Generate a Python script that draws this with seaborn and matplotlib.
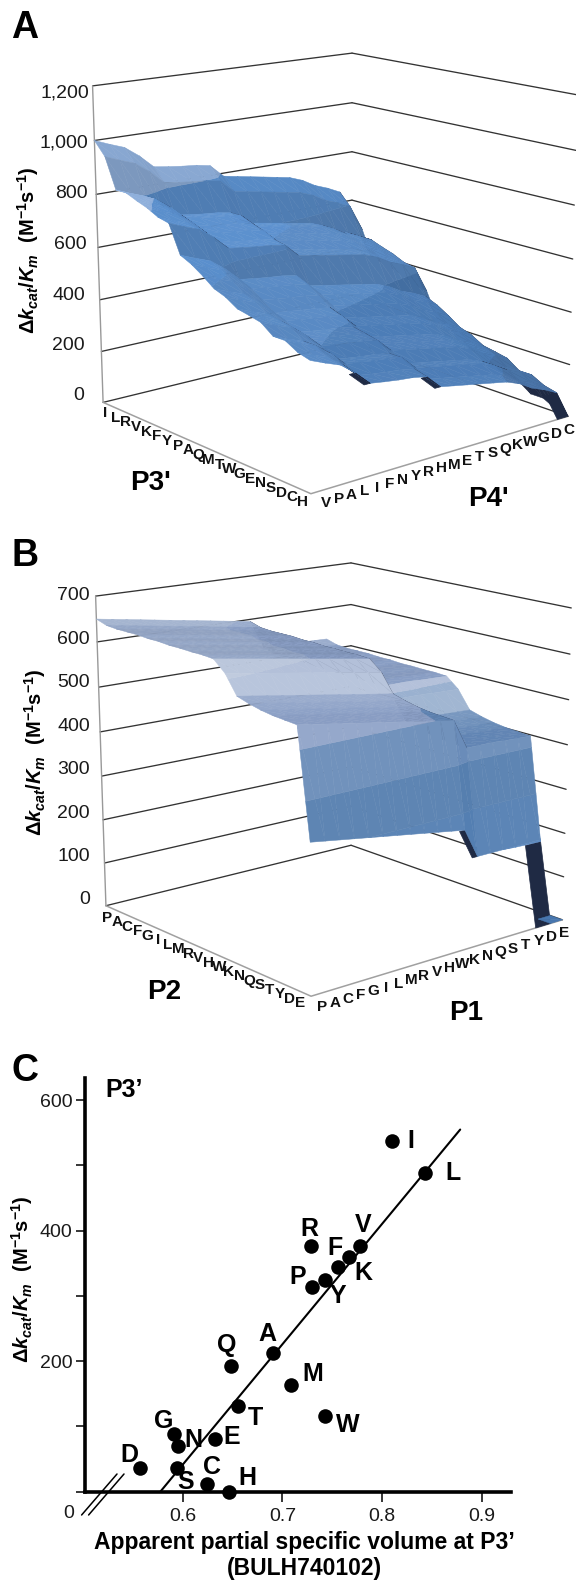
import numpy as np
import pandas as pd
import seaborn as sns
import matplotlib.pyplot as plt
from matplotlib.collections import PolyCollection

# residues in axis order, rates
residues_p3 = list("ILRVKFYPAQMTWGENSDCH")
residues_p4 = list("VPALIFNYRHMETSQKWGDC")
residues_p2 = list("PACFGILMRVHWKNQSTYDE")
residues_p1 = list("PACFGILMRVHWKNQSTYDE")

# panel C, same residue order as residues_p3, also the P3' part of surface A
p3_rate = [538, 489, 377, 377, 360, 345, 324, 314, 212, 192,
           164, 132, 116, 89, 80, 70, 37, 37, 12, 0]
p3_volume = [0.8097, 0.843, 0.7285, 0.7776, 0.767, 0.756, 0.743, 0.730, 0.691, 0.648,
             0.709, 0.655, 0.743, 0.591, 0.632, 0.5956, 0.594, 0.5575, 0.624, 0.646]
fit_volume = [0.5775, 0.8785]
fit_rate = [0, 555]

# panel A, P4' part of the surface height
p4_rate = [462, 440, 420, 380, 330, 322, 315, 310, 300, 250,
           240, 230, 220, 210, 200, 180, 150, 130, 105, 0]
# panel B
p2_rate = [330, 322, 320, 320, 320, 318, 318, 316, 316, 315,
           315, 313, 290, 250, 242, 236, 232, 230, 228, 0]
p1_rate = [320, 315, 310, 305, 300, 295, 290, 285, 280, 275,
           270, 265, 200, 200, 200, 198, 197, 196, 0, 0]

ticks_a = [0, 200, 400, 600, 800, 1000, 1200]
ticks_b = [0, 100, 200, 300, 400, 500, 600, 700]

# pixel offset of each letter from its point in panel C
label_offset = {
    "I": (19, 0), "L": (28, 0), "R": (-1, 17), "V": (3, 21), "K": (14, -16),
    "F": (-3, 19), "Y": (13, -16), "P": (-15, 10), "A": (-6, 19), "Q": (-4, 21),
    "M": (21, 11), "T": (18, -12), "W": (23, -9), "G": (-10, 13), "E": (17, 2),
    "N": (15, 6), "S": (9, -14), "D": (-11, 13), "C": (5, 17), "H": (19, 14),
}

NAVY = "#1f2a44"
bands_a = ["#4a75a9", "#4d7eb8", "#5a8bc5", "#5b90ce", "#8fb0dc", "#9dbbe3"]
bands_b = ["#4a7ab4", "#4d7fbb", "#4b78ae", "#4d78ab", "#6286b5", "#8a9fc5", "#97a9c9"]

sns.set_theme(style="ticks")
plt.rcParams["font.family"] = ["Liberation Sans", "DejaVu Sans"]
plt.rcParams["text.color"] = "black"
plt.rcParams["mathtext.fontset"] = "custom"
plt.rcParams["mathtext.rm"] = "Liberation Sans:bold"
plt.rcParams["mathtext.bf"] = "Liberation Sans:bold"
plt.rcParams["mathtext.it"] = "Liberation Sans:italic:bold"

RATE_LABEL = r"$\mathrm{\Delta}\mathit{k}_{\mathit{cat}}\mathrm{/}\mathit{K}_{\mathit{m}}\ \ \mathrm{(M^{-1}s^{-1})}$"


# straight-line camera from the box corners (u, v, w all 0..1) to pixels
def fit_camera(world, pixels):
    rows = []
    for (u, v, w), (x, y) in zip(world, pixels):
        rows.append([u, v, w, 1, 0, 0, 0, 0, -x * u, -x * v, -x * w, -x])
        rows.append([0, 0, 0, 0, u, v, w, 1, -y * u, -y * v, -y * w, -y])
    return np.linalg.svd(np.array(rows))[2][-1].reshape(3, 4)


def project(cam, u, v, w):
    u = np.asarray(u, dtype=float)
    pts = cam @ np.array([u, np.asarray(v, dtype=float), np.asarray(w, dtype=float), np.ones_like(u)])
    return pts[0] / pts[2], pts[1] / pts[2]


def tint(color, f):
    c = np.array(color)
    if f > 1:
        return tuple(c + (1 - c) * min((f - 1) * 2, 1))
    return tuple(c * f)


def clip_height(verts, level, keep_above):
    out = []
    for a, b in zip(verts, verts[1:] + verts[:1]):
        a_in = (a[2] >= level) == keep_above
        b_in = (b[2] >= level) == keep_above
        if a_in:
            out.append(a)
        if a_in != b_in:
            t = (level - a[2]) / (b[2] - a[2])
            out.append(tuple(p + (q - p) * t for p, q in zip(a, b)))
    return out


def signed_area(x, y):
    return np.sum(x * np.roll(y, -1) - np.roll(x, -1) * y)


def draw_surface(ax, cam, z, zmax, bands, light, shade, sliver_scale):
    n = z.shape[0]
    band_rgb = sns.color_palette(bands)
    band_size = zmax / len(bands)
    step = 1 / (n - 1)
    polys, colors = [], []
    for i in range(n - 1):
        for j in range(n - 2, -1, -1):
            # nan marks cells hidden behind the surface
            if np.isnan(z[i:i + 2, j:j + 2]).any():
                continue
            p00 = (i * step, j * step, float(z[i, j]))
            p10 = ((i + 1) * step, j * step, float(z[i + 1, j]))
            p01 = (i * step, (j + 1) * step, float(z[i, j + 1]))
            p11 = ((i + 1) * step, (j + 1) * step, float(z[i + 1, j + 1]))
            dzi = ((p10[2] + p11[2]) - (p00[2] + p01[2])) / 2 * (n - 1) / zmax
            dzj = ((p01[2] + p11[2]) - (p00[2] + p10[2])) / 2 * (n - 1) / zmax
            if dzj < -3 and abs(dzj) > 0.7 * abs(dzi):
                continue
            normal = np.array([-dzi, -dzj, 1.0])
            normal /= np.linalg.norm(normal)
            f = shade[0] + shade[1] * normal.dot(light)
            for tri in ([p00, p01, p11], [p00, p11, p10]):
                u, v, h = np.array(tri).T
                x, y = project(cam, u, v, h / zmax)
                xf, yf = project(cam, u, v, np.zeros(3))
                if signed_area(x, y) * signed_area(xf, yf) < 0:
                    polys.append(np.column_stack([x, y]))
                    colors.append(NAVY)
                    continue
                for b in range(len(bands)):
                    lo, hi = b * band_size, (b + 1) * band_size
                    part = clip_height(tri, lo, True) if b > 0 else list(tri)
                    if part:
                        part = clip_height(part, hi, False)
                    if len(part) < 3:
                        continue
                    u, v, h = np.array(part).T
                    x, y = project(cam, u, v, h / zmax)
                    polys.append(np.column_stack([x, y]))
                    colors.append(tint(band_rgb[b], f))
    # dark underside showing below the front edge where it falls away
    slivers = []
    for j in range(n - 1):
        drop = z[-1, j] - z[-1, j + 1]
        if drop > 40:
            r = drop / sliver_scale
            v = np.array([j, j + 1, j + 1 - r, j - r]) * step
            h = np.array([z[-1, j], z[-1, j + 1], z[-1, j + 1], z[-1, j]]) / zmax
            x, y = project(cam, np.ones(4), v, h)
            slivers.append(np.column_stack([x, y]))
    ax.add_collection(PolyCollection(slivers, facecolors=NAVY, edgecolors=NAVY, linewidths=0.5, zorder=2.5))
    ax.add_collection(PolyCollection(polys, facecolors=colors, edgecolors=colors,
                                     linewidths=0.35, zorder=3))


def draw_box(ax, cam, ticks, zmax):
    for t in ticks:
        w = t / zmax
        x, y = project(cam, [0, 0], [0, 1], [w, w])
        ax.plot(x, y, color="#333333", lw=0.95, zorder=1)
        x, y = project(cam, [0, 1], [1, 1], [w, w])
        ax.plot(x, y, color="#333333", lw=0.95, zorder=1)
    x, y = project(cam, [0, 0], [0, 0], [0, 1])
    ax.plot(x, y, color="#999999", lw=1, zorder=1)
    x, y = project(cam, [0, 1, 1], [0, 0, 1], [0, 0, 0])
    ax.plot(x, y, color="#a0a0a0", lw=1.1, zorder=2)


def draw_letters(ax, letters, start, end):
    xs = np.linspace(start[0], end[0], len(letters))
    ys = np.linspace(start[1], end[1], len(letters))
    for s, x, y in zip(letters, xs, ys):
        ax.text(x, y, s, fontsize=11, fontweight="bold", ha="center", va="center", color="#111111")


def draw_panel(ax, corners, z, ticks, bands, light, shade, sliver_scale, label_top, label_bot):
    world = [(0, 0, 0), (1, 0, 0), (1, 1, 0), (0, 1, 0), (0, 0, 1), (0, 1, 1)]
    cam = fit_camera(world, corners)
    zmax = ticks[-1]
    draw_box(ax, cam, ticks, zmax)
    draw_surface(ax, cam, z, zmax, bands, light, shade, sliver_scale)
    for t in ticks:
        f = t / zmax
        ax.text(label_bot[0] + (label_top[0] - label_bot[0]) * f,
                label_bot[1] + (label_top[1] - label_bot[1]) * f,
                f"{t:,}", fontsize=14, ha="right", va="center", color="#1a1a1a")


fig = plt.figure(figsize=(5.76, 15.8), dpi=100)
canvas = fig.add_axes([0, 0, 1, 1], zorder=2)
canvas.set_xlim(0, 576)
canvas.set_ylim(1580, 0)
canvas.axis("off")
canvas.patch.set_alpha(0)

# panel A
surface_a = np.add.outer(np.array(p3_rate), np.array(p4_rate)).astype(float)
corners_a = [(103, 402), (311, 494), (568, 416), (352, 342), (92.6, 86), (352, 53)]
draw_panel(canvas, corners_a, surface_a, ticks_a, bands_a, np.array([0.0, 0.0, 1.0]),
           (0.72, 0.3), 120, (89, 93), (84, 396))
draw_letters(canvas, residues_p3, (105, 413), (302, 502))
draw_letters(canvas, residues_p4, (326, 503), (569, 430))
canvas.text(25, 28, "A", fontsize=27, fontweight="bold", ha="center", va="center")
canvas.text(151, 483, "P3'", fontsize=20, fontweight="bold", ha="center", va="center")
canvas.text(488, 499, "P4'", fontsize=20, fontweight="bold", ha="center", va="center")
canvas.text(28, 250, RATE_LABEL, fontsize=14.5, rotation=90, ha="center", va="center")

# panel B, the last two P1 columns cannot be seen except for the tip on the floor
surface_b = np.add.outer(np.array(p2_rate), np.array(p1_rate)).astype(float)
surface_b[:18, 18:] = np.nan
surface_b[18:, 18:] = 0
corners_b = [(106, 906), (311, 996), (562.5, 920), (351, 845), (95.6, 596), (351, 563)]
draw_panel(canvas, corners_b, surface_b, ticks_b, bands_b, np.array([0.707, 0.0, 0.707]),
           (0.4, 0.8), 160, (90, 596), (90, 900))
draw_letters(canvas, residues_p2, (107, 918), (300, 1003))
draw_letters(canvas, residues_p1, (322, 1007), (564, 933))
canvas.text(25, 556, "B", fontsize=27, fontweight="bold", ha="center", va="center")
canvas.text(164, 992, "P2", fontsize=20, fontweight="bold", ha="center", va="center")
canvas.text(466, 1013, "P1", fontsize=20, fontweight="bold", ha="center", va="center")
canvas.text(35, 752, RATE_LABEL, fontsize=14.5, rotation=90, ha="center", va="center")

# panel C
df = pd.DataFrame({"residue": residues_p3, "volume": p3_volume, "rate": p3_rate})
ax = fig.add_axes([84.5 / 576, 1 - 1491.7 / 1580, (511 - 84.5) / 576, (1491.7 - 1078) / 1580], zorder=1)
ax.patch.set_alpha(0)
sns.lineplot(x=fit_volume, y=fit_rate, color="black", linewidth=1.5, ax=ax, zorder=2)
sns.scatterplot(data=df, x="volume", y="rate", color="black", s=110, linewidth=0, ax=ax,
                clip_on=False, zorder=3)
ax.set_xlim(0.5014, 0.9295)
ax.set_ylim(0, 634)
ax.set_xticks([0.6, 0.7, 0.8, 0.9])
ax.set_yticks([0, 100, 200, 300, 400, 500, 600], labels=["", "", "200", "", "400", "", "600"])
ax.tick_params(axis="y", length=6.5, width=1.1, labelsize=14, pad=2, colors="#1a1a1a", color="black")
ax.tick_params(axis="x", length=7, width=1.1, labelsize=14, pad=5, colors="#1a1a1a", color="black")
ax.set_xlabel("")
ax.set_ylabel("")
sns.despine(ax=ax)
for side in ("left", "bottom"):
    ax.spines[side].set_linewidth(2.6)
    ax.spines[side].set_color("black")
for _, row in df.iterrows():
    ax.annotate(row["residue"], (row["volume"], row["rate"]), xytext=label_offset[row["residue"]],
                textcoords="offset pixels", fontsize=18, fontweight="bold", ha="center", va="center")

canvas.text(25, 1071, "C", fontsize=27, fontweight="bold", ha="center", va="center")
canvas.text(124, 1090, "P3’", fontsize=18, fontweight="bold", ha="center", va="center")
canvas.text(22, 1279, RATE_LABEL, fontsize=14.5, rotation=90, ha="center", va="center")
canvas.text(69, 1513, "0", fontsize=14, ha="center", va="center", color="#1a1a1a")
canvas.text(304, 1542, "Apparent partial specific volume at P3’", fontsize=16.5,
            fontweight="bold", ha="center", va="center")
canvas.text(304, 1569, "(BULH740102)", fontsize=16.5, fontweight="bold", ha="center", va="center")
for shift in (0, 7):
    canvas.plot(np.array([81.6, 117]) + shift, [1515, 1474], color="black", lw=1.1)

fig.savefig("out.png", dpi=100)
plt.close(fig)
